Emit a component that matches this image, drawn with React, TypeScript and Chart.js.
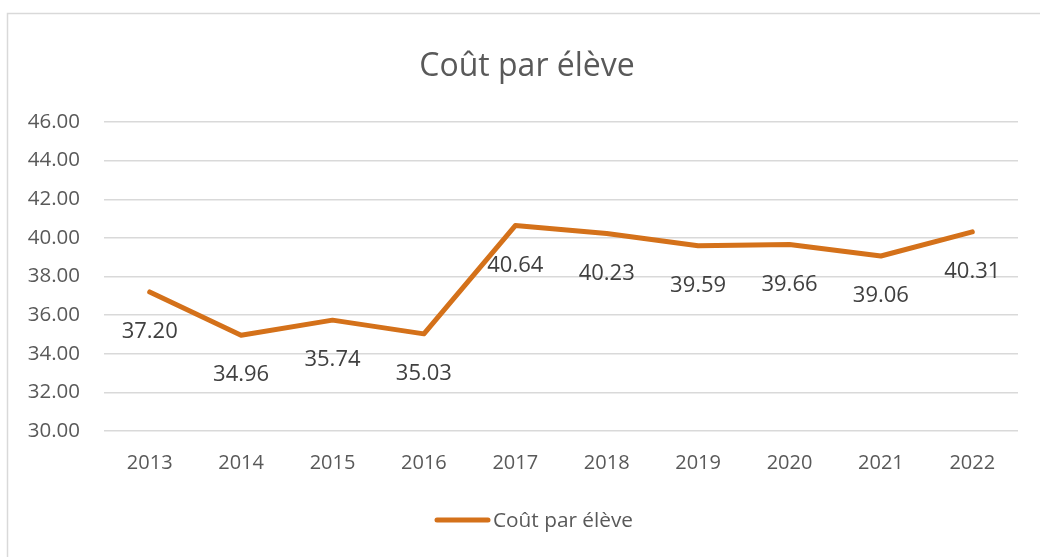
import React, { useEffect, useRef } from "react";
import { Chart, registerables } from "chart.js";

Chart.register(...registerables);

const years = ["2013", "2014", "2015", "2016", "2017", "2018", "2019", "2020", "2021", "2022"];
const costs = [37.2, 34.96, 35.74, 35.03, 40.64, 40.23, 39.59, 39.66, 39.06, 40.31];
const seriesName = "Coût par élève";
const titleText = "Coût par élève";
const yMin = 30;
const yMax = 46;
const yStep = 2;

const LINE_COLOR = "#D4711A";
const FONT = "'Open Sans', 'Noto Sans', sans-serif";

const decorPlugin = {
  id: "decor",
  beforeDraw(chart: any) {
    const ctx = chart.ctx;
    ctx.save();
    ctx.fillStyle = "#ffffff";
    ctx.fillRect(0, 0, chart.width, chart.height);
    ctx.strokeStyle = "#D9D9D9";
    ctx.lineWidth = 1.5;
    ctx.strokeRect(7.5, 13.5, chart.width + 20, chart.height + 20);
    ctx.restore();
  },
  afterDraw(chart: any) {
    const ctx = chart.ctx;
    ctx.save();
    // title
    ctx.fillStyle = "#595959";
    ctx.font = `32px ${FONT}`;
    ctx.textAlign = "center";
    ctx.textBaseline = "middle";
    ctx.fillText(titleText, 527, 67);
    // data labels
    const meta = chart.getDatasetMeta(0);
    ctx.fillStyle = "#404040";
    ctx.font = `22px ${FONT}`;
    meta.data.forEach((pt: any, i: number) => {
      const v = chart.data.datasets[0].data[i] as number;
      ctx.fillText(v.toFixed(2), pt.x, pt.y + 40);
    });
    // legend
    ctx.strokeStyle = LINE_COLOR;
    ctx.lineWidth = 5;
    ctx.lineCap = "round";
    ctx.beginPath();
    ctx.moveTo(437, 520);
    ctx.lineTo(488, 520);
    ctx.stroke();
    ctx.fillStyle = "#595959";
    ctx.font = `20.8px ${FONT}`;
    ctx.textAlign = "left";
    ctx.fillText(seriesName, 493, 521);
    ctx.restore();
  },
};

export default function App() {
  const ref = useRef<HTMLCanvasElement | null>(null);
  useEffect(() => {
    if (!ref.current) return;
    const chart = new Chart(ref.current, {
      type: "line",
      data: {
        labels: years,
        datasets: [
          {
            label: seriesName,
            data: costs,
            borderColor: LINE_COLOR,
            backgroundColor: LINE_COLOR,
            borderWidth: 5,
            borderCapStyle: "round",
            borderJoinStyle: "round",
            pointRadius: 0,
            tension: 0,
          },
        ],
      },
      options: {
        animation: false,
        responsive: false,
        maintainAspectRatio: false,
        layout: { padding: { left: 0, right: 22, top: 122, bottom: 0 } },
        plugins: {
          legend: { display: false },
          title: { display: false },
          tooltip: { enabled: false },
        },
        scales: {
          x: {
            offset: true,
            grid: { display: false, drawTicks: false },
            border: { display: false },
            ticks: {
              color: "#595959",
              font: { size: 20, family: FONT },
              padding: 20,
              maxRotation: 0,
            },
            afterFit: (s: any) => {
              s.height = 557 - 431;
            },
          },
          y: {
            min: yMin,
            max: yMax,
            grid: { color: "#D9D9D9", lineWidth: 1.5, drawTicks: false },
            border: { display: false },
            ticks: {
              stepSize: yStep,
              color: "#595959",
              font: { size: 20.5, family: FONT },
              padding: 24,
              callback: (v: any) => Number(v).toFixed(2),
            },
            afterFit: (s: any) => {
              s.width = 104;
            },
          },
        },
      },
      plugins: [decorPlugin],
    });
    return () => chart.destroy();
  }, []);
  return (
    <div style={{ position: "fixed", left: 0, top: 0, width: 1040, height: 557 }}>
      <canvas ref={ref} width={1040} height={557} />
    </div>
  );
}
